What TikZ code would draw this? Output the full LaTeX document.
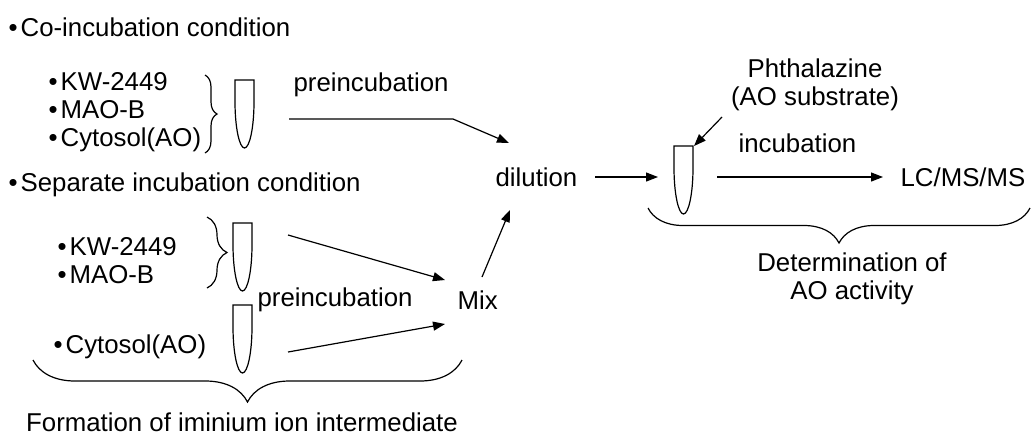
\documentclass[tikz,border=0pt]{standalone}
\usepackage{fontspec}
\setmainfont{Liberation Sans}
\usetikzlibrary{arrows.meta,decorations.pathreplacing}

\newcommand{\bul}{•\hspace{1.5pt}}

\tikzset{
  lbl/.style={inner sep=0pt, font=\fontsize{12.9pt}{14pt}\selectfont},
  brc/.style={decorate, decoration={brace, amplitude=#1}},
  tube/.pic={\draw (0,0) -- (19,0) -- (19,22) .. controls (19,47) and (14.7,68) .. (9.5,68)
    .. controls (4.3,68) and (0,47) .. (0,22) -- cycle;}
}

\begin{document}
\begin{tikzpicture}[x=0.5pt, y=-0.5pt, line width=0.6pt, >={Triangle[length=6pt,width=4.5pt]}]
\useasboundingbox (0,0) rectangle (1031,436);

% co-incubation
\node[lbl, anchor=west] (co) at (8,27) {\bul Co-incubation condition};
\node[lbl, anchor=west, align=left] (colist) at (48,112) {\bul KW-2449\\\bul MAO-B\\\bul Cytosol(AO)};
\draw[brc=6pt] (205,75) -- (205,153);
\pic at (235,80) {tube};
\node[lbl, anchor=west] (pre1) at (293,85) {preincubation};

% separate incubation
\node[lbl, anchor=west] (sep) at (8,185) {\bul Separate incubation condition};
\node[lbl, anchor=west, align=left] (seplist) at (57,261) {\bul KW-2449\\\bul MAO-B};
\draw[brc=10pt] (207,217) -- (207,288);
\pic at (233,223) {tube};
\node[lbl, anchor=west] (pre2) at (257,300) {preincubation};
\node[lbl, anchor=west] (cyto) at (53,347) {\bul Cytosol(AO)};
\pic at (233,305) {tube};
\node[lbl, anchor=west] (mix) at (457,300) {Mix};
\draw[brc=21pt] (462,360) -- (33,360);
\node[lbl] (form) at (242,422) {Formation of iminium ion intermediate};

% dilution and assay
\node[lbl, anchor=west] (dil) at (495,177) {dilution};
\pic at (674,146) {tube};
\node[lbl, align=center] (phth) at (815,85) {Phthalazine\\(AO substrate)};
\node[lbl, anchor=west] (inc) at (738,143) {incubation};
\node[lbl, anchor=west] (lcms) at (900,177) {LC/MS/MS};
\draw[brc=17.5pt] (1030,208) -- (648,208);
\node[lbl, align=center] (det) at (852,279) {Determination of\\AO activity};

\coordinate (t1out) at (289,119);
\coordinate (bend) at (453,119);
\coordinate (dilin1) at (509,143);
\coordinate (t3out) at (288,235);
\coordinate (mixin1) at (445,280);
\coordinate (t4out) at (288,352);
\coordinate (mixin2) at (445,324);
\coordinate (mixout) at (482,277);
\coordinate (dilin2) at (510,210);
\coordinate (dilout) at (595,177);
\coordinate (t2in) at (658,177);
\coordinate (phout) at (722,117);
\coordinate (t2top) at (694,146);
\coordinate (t2out) at (717,177);
\coordinate (lcin) at (883,177);

\draw[->] (t1out) -- (bend) -- (dilin1);
\draw[->] (t3out) -- (mixin1);
\draw[->] (t4out) -- (mixin2);
\draw[->] (mixout) -- (dilin2);
\draw[->] (dilout) -- (t2in);
\draw[->] (phout) -- (t2top);
\draw[->] (t2out) -- (lcin);
\end{tikzpicture}
\end{document}
